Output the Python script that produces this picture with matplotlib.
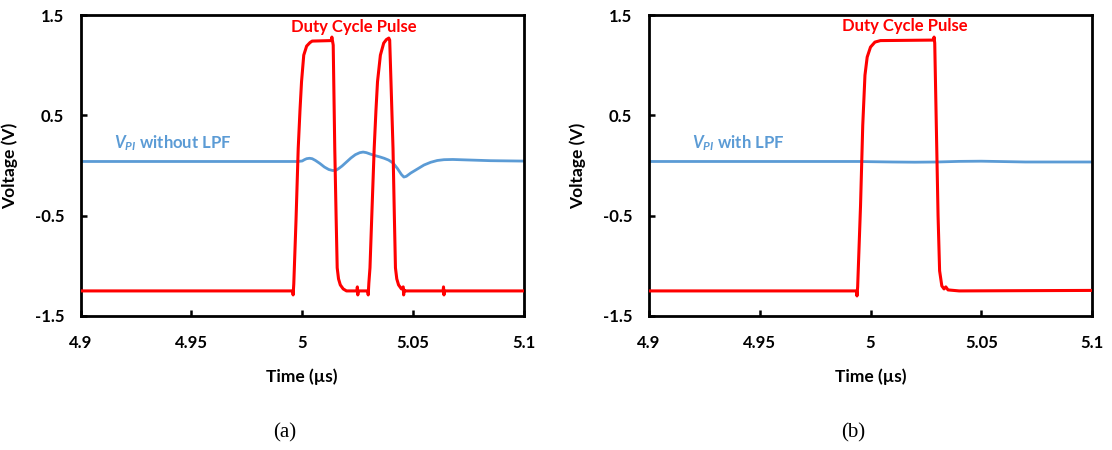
"""Duty cycle pulse and V_PI with / without low pass filter."""
import matplotlib
matplotlib.use("Agg")
import matplotlib.pyplot as plt

# --- (a) without LPF ---
t_a_pulse = [4.900, 4.9957, 4.9959, 4.9962, 4.9972, 4.9982, 4.9990, 4.9997, 5.0007,
             5.0020, 5.0035, 5.0045, 5.0131, 5.0134, 5.0140, 5.0147, 5.0153, 5.0158,
             5.0164, 5.0172, 5.0185, 5.0200, 5.0247, 5.0249, 5.0251, 5.0253, 5.0296,
             5.0298, 5.0301, 5.0306, 5.0315, 5.0325, 5.0333, 5.0340, 5.0353, 5.0368,
             5.0380, 5.0391, 5.0395, 5.0402, 5.0410, 5.0416, 5.0421, 5.0427, 5.0435,
             5.0448, 5.0456, 5.0458, 5.0460, 5.0463, 5.0636, 5.0638, 5.0640, 5.0642,
             5.100]
v_a_pulse = [-1.25, -1.25, -1.29, -1.18, -0.55, 0.17, 0.55, 0.835, 1.10,
             1.19, 1.225, 1.24, 1.245, 1.28, 1.20, 0.17, -0.50, -1.02,
             -1.13, -1.19, -1.23, -1.25, -1.25, -1.21, -1.29, -1.25, -1.25,
             -1.29, -1.17, -1.02, -0.45, 0.17, 0.55, 0.835, 1.10, 1.22,
             1.255, 1.27, 1.25, 0.75, 0.17, -0.50, -1.02, -1.13, -1.19,
             -1.23, -1.21, -1.29, -1.24, -1.25, -1.25, -1.21, -1.29, -1.25,
             -1.25]

t_a_vpi = [4.900, 4.998, 5.000, 5.001, 5.002, 5.0033, 5.0045, 5.006, 5.008, 5.010,
           5.012, 5.0138, 5.0152, 5.0165, 5.018, 5.020, 5.022, 5.024, 5.026, 5.0275,
           5.029, 5.031, 5.033, 5.035, 5.037, 5.039, 5.041, 5.043, 5.0448, 5.0459,
           5.047, 5.049, 5.052, 5.055, 5.058, 5.061, 5.064, 5.068, 5.075, 5.085, 5.100]
v_a_vpi = [0.040, 0.040, 0.045, 0.058, 0.068, 0.072, 0.068, 0.050, 0.020, -0.015,
           -0.040, -0.050, -0.048, -0.030, -0.005, 0.035, 0.075, 0.108, 0.128, 0.134,
           0.128, 0.112, 0.098, 0.086, 0.072, 0.054, 0.025, -0.030, -0.090, -0.115,
           -0.108, -0.075, -0.035, 0.005, 0.032, 0.050, 0.058, 0.060, 0.055, 0.048, 0.044]

# --- (b) with LPF ---
t_b_pulse = [4.900, 4.9937, 4.9939, 4.9942, 4.9955, 4.9965, 4.9975, 4.9985, 5.0000,
             5.0020, 5.0045, 5.0284, 5.0287, 5.0290, 5.0298, 5.0305, 5.0312, 5.0322,
             5.0332, 5.0340, 5.0350, 5.0400, 5.100]
v_b_pulse = [-1.25, -1.25, -1.30, -1.21, -0.40, 0.40, 0.90, 1.08, 1.18,
             1.23, 1.245, 1.25, 1.28, 1.22, 0.30, -0.50, -1.05, -1.20,
             -1.23, -1.21, -1.24, -1.25, -1.245]

t_b_vpi = [4.900, 4.995, 5.000, 5.010, 5.020, 5.030, 5.040, 5.050, 5.060, 5.070, 5.080, 5.100]
v_b_vpi = [0.040, 0.040, 0.038, 0.035, 0.033, 0.035, 0.041, 0.043, 0.039, 0.035, 0.035, 0.035]

x_ticks = [4.9, 4.95, 5.0, 5.05, 5.1]
x_tick_labels = ["4.9", "4.95", "5", "5.05", "5.1"]
y_ticks = [-1.5, -0.5, 0.5, 1.5]
y_tick_labels = ["-1.5", "-0.5", "0.5", "1.5"]

RED = "#FF0000"
BLUE = "#5B9BD5"
FONT = "Lato"

plt.rcParams["font.family"] = FONT
plt.rcParams["font.weight"] = "bold"
plt.rcParams["mathtext.fontset"] = "custom"
plt.rcParams["mathtext.it"] = "Lato:italic:bold"
plt.rcParams["mathtext.rm"] = "Lato:bold"

W, H = 1112, 450
fig = plt.figure(figsize=(W / 100, H / 100), dpi=100)


def setup_axes(left_px):
    ax = fig.add_axes([left_px / W, 1 - 316 / H, 443 / W, 301 / H])
    ax.set_xlim(4.9, 5.1)
    ax.set_ylim(-1.5, 1.5)
    ax.set_xticks(x_ticks)
    ax.set_xticklabels(x_tick_labels)
    ax.set_yticks(y_ticks)
    ax.set_yticklabels(y_tick_labels)
    ax.tick_params(direction="in", length=4, width=1.8, labelsize=12)
    ax.tick_params(axis="x", pad=14)
    ax.tick_params(axis="y", pad=12)
    for sp in ax.spines.values():
        sp.set_linewidth(2.0)
        sp.set_color("black")
    ax.set_xlabel("Time (\u00b5s)", fontsize=12.5, fontweight="bold")
    ax.set_ylabel("Voltage (V)", fontsize=12.5, fontweight="bold")
    ax.xaxis.set_label_coords(0.5, -0.173)
    ax.yaxis.set_label_coords(-0.141, 0.5)
    return ax


ax1 = setup_axes(80.7)
ax1.plot(t_a_vpi, v_a_vpi, color=BLUE, lw=2.0, zorder=2)
ax1.plot(t_a_pulse, v_a_pulse, color=RED, lw=2.2, zorder=3)
ax1.text(5.0232, 1.38, "Duty Cycle Pulse", color=RED, fontsize=12,
         fontweight="bold", ha="center", va="center")
ax1.text(4.9150, 0.22, r"$V_{PI}$ without LPF", color=BLUE, fontsize=12,
         fontweight="bold", ha="left", va="center")

ax2 = setup_axes(649)
ax2.plot(t_b_vpi, v_b_vpi, color=BLUE, lw=2.0, zorder=2)
ax2.plot(t_b_pulse, v_b_pulse, color=RED, lw=2.2, zorder=3)
ax2.text(5.0154, 1.39, "Duty Cycle Pulse", color=RED, fontsize=12,
         fontweight="bold", ha="center", va="center")
ax2.text(4.9195, 0.22, r"$V_{PI}$ with LPF", color=BLUE, fontsize=12,
         fontweight="bold", ha="left", va="center")

fig.text(285 / W, 1 - 433 / H, "(a)", family="Liberation Serif",
         fontweight="normal", fontsize=15, ha="center", va="center")
fig.text(853 / W, 1 - 433 / H, "(b)", family="Liberation Serif",
         fontweight="normal", fontsize=15, ha="center", va="center")

fig.savefig("out.png", dpi=100)
